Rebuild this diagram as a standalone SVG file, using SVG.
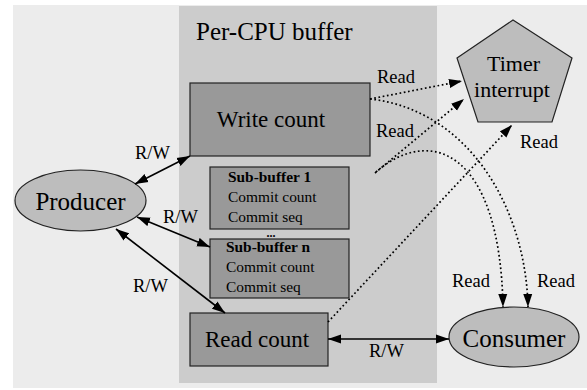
<svg xmlns="http://www.w3.org/2000/svg" width="587" height="390" viewBox="0 0 587 390">
<style>
text{font-family:"Liberation Serif","Times New Roman",serif;fill:#000}
.box{fill:#999999;stroke:#222;stroke-width:1.2}
.nd{fill:#bdbdbd;stroke:#222;stroke-width:1.2}
.solid{fill:none;stroke:#000;stroke-width:1.6}
.dot{fill:none;stroke:#000;stroke-width:1.7;stroke-dasharray:1.7 2.6}
.big{font-size:25px}
.mid{font-size:23px}
.lbl{font-size:18.5px}
.sub{font-size:15.4px}
</style>
<defs>
<marker id="ah" markerUnits="userSpaceOnUse" markerWidth="14" markerHeight="10" refX="13" refY="5" orient="auto-start-reverse" viewBox="0 0 14 10">
<path d="M0,0.5 L13,5 L0,9.5 z" fill="#000"/>
</marker>
</defs>
<rect x="13" y="5" width="574" height="383" fill="#ececec"/>
<g id="cluster-percpu">
<rect x="179" y="6" width="258" height="377" fill="#cccccc"/>
<text x="196" y="40" class="big">Per-CPU buffer</text>
</g>
<g id="write-count">
<rect class="box" x="190" y="83" width="180" height="73"/>
<text x="271" y="127" class="mid" text-anchor="middle">Write count</text>
</g>
<g id="sub-buffer-1">
<rect class="box" x="210" y="167" width="139" height="62"/>
<text x="228" y="182" class="sub" font-weight="bold">Sub-buffer 1</text>
<text x="228" y="202" class="sub">Commit count</text>
<text x="228" y="222" class="sub">Commit seq</text>
</g>
<g id="ellipsis">
<text x="271" y="236.5" font-size="12" font-weight="bold" text-anchor="middle">...</text>
</g>
<g id="sub-buffer-n">
<rect class="box" x="210" y="239" width="139" height="59"/>
<text x="226" y="252" class="sub" font-weight="bold">Sub-buffer n</text>
<text x="226" y="272" class="sub">Commit count</text>
<text x="226" y="292" class="sub">Commit seq</text>
</g>
<g id="read-count">
<rect class="box" x="190" y="313" width="138" height="53"/>
<text x="205" y="347" class="mid">Read count</text>
</g>
<g id="producer">
<ellipse class="nd" cx="80.5" cy="200.5" rx="65.5" ry="30.5"/>
<text x="80.5" y="210" class="big" text-anchor="middle">Producer</text>
</g>
<g id="consumer">
<ellipse class="nd" cx="514" cy="337" rx="65" ry="30"/>
<text x="514" y="347" class="big" text-anchor="middle">Consumer</text>
</g>
<g id="timer-interrupt">
<polygon class="nd" points="513,20 572,58 552,122 478,122 457,58"/>
<text x="513.5" y="71" font-size="22" text-anchor="middle">Timer</text>
<text x="512" y="97" font-size="22" text-anchor="middle">interrupt</text>
</g>
<g id="connectors">
<line class="solid" x1="135" y1="184" x2="190" y2="156" marker-start="url(#ah)" marker-end="url(#ah)"/>
<line class="solid" x1="137" y1="217" x2="210" y2="247" marker-start="url(#ah)" marker-end="url(#ah)"/>
<line class="solid" x1="116" y1="229" x2="225" y2="313" marker-start="url(#ah)" marker-end="url(#ah)"/>
<line class="solid" x1="328" y1="339" x2="449" y2="339" marker-start="url(#ah)" marker-end="url(#ah)"/>
<path class="dot" d="M370,99 L462,81" marker-end="url(#ah)"/>
<path class="dot" d="M375,173 L464,99" marker-end="url(#ah)"/>
<path class="dot" d="M328,322 L512,125" marker-end="url(#ah)"/>
<path class="dot" d="M370,99 C470,110 526,210 528,307" marker-end="url(#ah)"/>
<path class="dot" d="M376,172 C430,125 500,150 503,307" marker-end="url(#ah)"/>
<text x="135" y="159" class="lbl">R/W</text>
<text x="163" y="223" class="lbl">R/W</text>
<text x="133" y="292" class="lbl">R/W</text>
<text x="369" y="357" class="lbl">R/W</text>
<text x="377" y="83" class="lbl">Read</text>
<text x="376" y="137" class="lbl">Read</text>
<text x="520" y="148" class="lbl">Read</text>
<text x="452" y="287" class="lbl">Read</text>
<text x="537" y="287" class="lbl">Read</text>
</g>
</svg>
